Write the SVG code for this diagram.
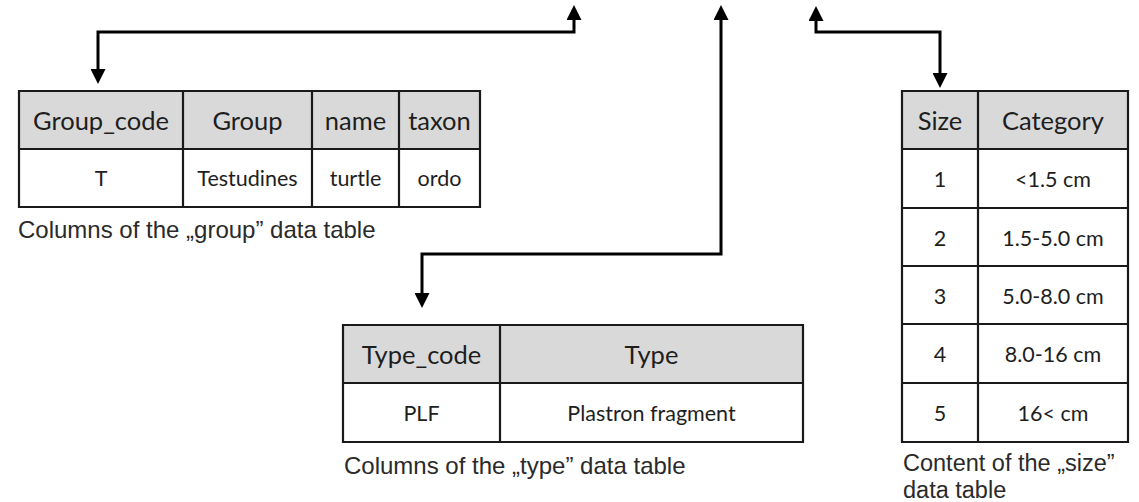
<svg xmlns="http://www.w3.org/2000/svg" width="1139" height="502" viewBox="0 0 1139 502">
<defs>
<marker id="ah" viewBox="0 0 15 15" markerWidth="15" markerHeight="15" refX="0" refY="7.5" orient="auto-start-reverse" markerUnits="userSpaceOnUse">
<path d="M0,0 L15,7.5 L0,15 z" fill="#000"/>
</marker>
<style>
.hd{fill:#d9d9d9;stroke:none}
.cell{fill:#fff;stroke:none}
.grid{fill:none;stroke:#1a1a1a;stroke-width:2.2}
.th{font-family:Lato,"Open Sans",sans-serif;font-size:25.5px;fill:#1e1e1e;text-anchor:middle}
.td{font-family:Lato,"Open Sans",sans-serif;font-size:21.5px;fill:#1e1e1e;text-anchor:middle}
.cap{font-family:"Liberation Sans",Arial,sans-serif;font-size:24px;fill:#2a2a2a}
.cap2{font-family:"Liberation Sans",Arial,sans-serif;font-size:23.5px;fill:#2a2a2a}
.conn{fill:none;stroke:#000;stroke-width:3;marker-start:url(#ah);marker-end:url(#ah)}
</style>
</defs>
<rect width="1139" height="502" fill="#fff"/>
<g id="connectors">
<path class="conn" d="M98,69 V32 H574 V20"/>
<path class="conn" d="M422,293 V254 H721 V20"/>
<path class="conn" d="M940,73 V32 H816 V21"/>
</g>
<g id="group-table">
<rect class="hd" x="19" y="91" width="461" height="58"/>
<rect class="cell" x="19" y="149" width="461" height="58"/>
<path class="grid" d="M19,91 H480 V207 H19 Z M19,149 H480 M183,91 V207 M312,91 V207 M399,91 V207"/>
<text class="th" x="101" y="130">Group_code</text>
<text class="th" x="247.5" y="130">Group</text>
<text class="th" x="355.5" y="130">name</text>
<text class="th" x="439.5" y="130">taxon</text>
<text class="td" x="101" y="186">T</text>
<text class="td" x="247.5" y="186">Testudines</text>
<text class="td" x="355.5" y="186">turtle</text>
<text class="td" x="439.5" y="186">ordo</text>
<text class="cap" x="18" y="238">Columns of the „group” data table</text>
</g>
<g id="type-table">
<rect class="hd" x="343" y="325" width="460" height="58"/>
<rect class="cell" x="343" y="383" width="460" height="59"/>
<path class="grid" d="M343,325 H803 V442 H343 Z M343,383 H803 M500,325 V442"/>
<text class="th" x="421.5" y="364">Type_code</text>
<text class="th" x="651.5" y="364">Type</text>
<text class="td" x="421.5" y="421">PLF</text>
<text class="td" x="651.5" y="421">Plastron fragment</text>
<text class="cap" x="344" y="474">Columns of the „type” data table</text>
</g>
<g id="size-table">
<rect class="hd" x="902" y="91" width="226" height="58"/>
<rect class="cell" x="902" y="149" width="226" height="293"/>
<path class="grid" d="M902,91 H1128 V442 H902 Z M902,149 H1128 M902,208 H1128 M902,266 H1128 M902,324 H1128 M902,383 H1128 M978,91 V442"/>
<text class="th" x="940" y="130">Size</text>
<text class="th" x="1053" y="130">Category</text>
<text class="td" x="940" y="187">1</text>
<text class="td" x="1053" y="187">&lt;1.5 cm</text>
<text class="td" x="940" y="246">2</text>
<text class="td" x="1053" y="246">1.5-5.0 cm</text>
<text class="td" x="940" y="304">3</text>
<text class="td" x="1053" y="304">5.0-8.0 cm</text>
<text class="td" x="940" y="362">4</text>
<text class="td" x="1053" y="362">8.0-16 cm</text>
<text class="td" x="940" y="421">5</text>
<text class="td" x="1053" y="421">16&lt; cm</text>
<text class="cap2" x="903" y="471">Content of the „size”</text>
<text class="cap2" x="903" y="498">data table</text>
</g>
</svg>
